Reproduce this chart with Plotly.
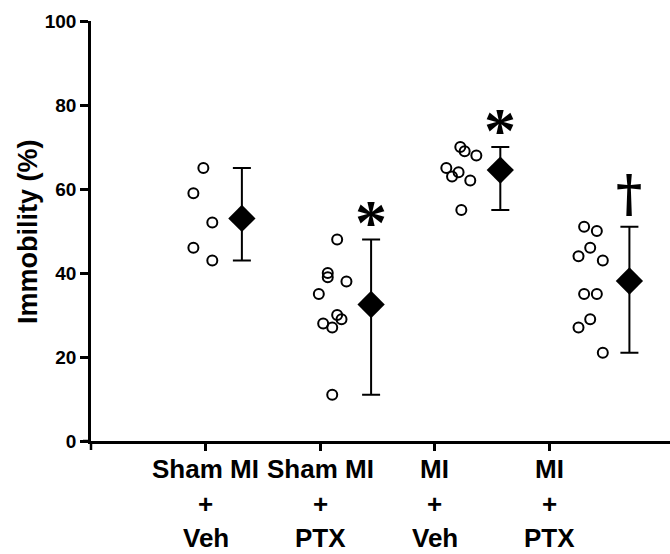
import plotly.graph_objects as go
import numpy as np

# ---- data ----
group_line1 = ["Sham MI", "Sham MI", "MI", "MI"]
group_line2 = ["+", "+", "+", "+"]
group_line3 = ["Veh", "PTX", "Veh", "PTX"]

sham_veh = [65, 59, 52, 46, 43]
sham_ptx = [48, 40, 39, 38, 35, 30, 29, 28, 27, 11]
mi_veh = [70, 69, 68, 65, 64, 63, 62, 55]
mi_ptx = [51, 50, 46, 44, 43, 35, 35, 29, 27, 21]

# horizontal jitter of the individual points (category units)
jit_sham_veh = [-0.02, -0.107, 0.058, -0.107, 0.058]
jit_sham_ptx = [0.147, 0.065, 0.065, 0.228, -0.013, 0.147, 0.185, 0.025, 0.104, 0.104]
jit_mi_veh = [0.221, 0.259, 0.361, 0.099, 0.206, 0.149, 0.308, 0.230]
jit_mi_ptx = [0.301, 0.412, 0.354, 0.252, 0.464, 0.301, 0.412, 0.354, 0.252, 0.464]
summary_offset = [0.316, 0.443, 0.570, 0.696]

marks = ["", "*", "*", "\u2020"]

groups = [sham_veh, sham_ptx, mi_veh, mi_ptx]
jitters = [jit_sham_veh, jit_sham_ptx, jit_mi_veh, jit_mi_ptx]

W, H = 670, 554
L, R, T, B = 91, 0, 21, 113
FONT = "Liberation Sans, Arial, sans-serif"

fig = go.Figure()

for i, (vals, jit) in enumerate(zip(groups, jitters)):
    cx = i + 1
    fig.add_trace(go.Scatter(
        x=[cx + j for j in jit], y=vals, mode="markers",
        marker=dict(symbol="circle-open", size=10, color="black", line=dict(width=2, color="black")),
        showlegend=False, hoverinfo="y"))
    m = float(np.mean(vals))
    fig.add_trace(go.Scatter(
        x=[cx + summary_offset[i]], y=[m], mode="markers",
        marker=dict(symbol="diamond", size=21, color="black"),
        error_y=dict(type="data", symmetric=False,
                     array=[max(vals) - m], arrayminus=[m - min(vals)],
                     color="black", thickness=2, width=9),
        showlegend=False))

fig.update_layout(
    width=W, height=H,
    margin=dict(l=L, r=R, t=T, b=B),
    paper_bgcolor="white", plot_bgcolor="white",
    font=dict(family=FONT, color="black"),
    xaxis=dict(range=[0, 5.05], showgrid=False, zeroline=False,
               showline=True, linecolor="black", linewidth=2.5,
               tickvals=[1, 2, 3, 4], ticktext=["", "", "", ""],
               ticks="outside", ticklen=7, tickwidth=2.5, tickcolor="black"),
    yaxis=dict(range=[0, 100], showgrid=False, zeroline=False,
               showline=True, linecolor="black", linewidth=2.5,
               tickvals=[0, 20, 40, 60, 80, 100],
               ticktext=["<b>%d</b>" % v for v in [0, 20, 40, 60, 80, 100]],
               ticks="outside", ticklen=8, tickwidth=2.5, tickcolor="black",
               tickfont=dict(size=19, family=FONT)),
)

pw, ph = W - L - R, H - T - B
def py(p):
    return (H - B - p) / ph

# axis overhangs
fig.add_shape(type="line", xref="paper", yref="paper", x0=0, x1=0, y0=0, y1=py(450),
              line=dict(color="black", width=2.5))
fig.add_shape(type="line", xref="paper", yref="paper", x0=-8 / pw, x1=0, y0=0, y1=0,
              line=dict(color="black", width=2.5))

# category labels (three lines)
for i in range(4):
    for txt, ypix in zip([group_line1[i], group_line2[i], group_line3[i]], [469, 504, 538]):
        fig.add_annotation(x=i + 1, xref="x", y=py(ypix), yref="paper", text="<b>%s</b>" % txt,
                           showarrow=False, xanchor="center", yanchor="middle",
                           font=dict(size=26, family=FONT, color="black"))

# y title
fig.add_annotation(x=(28 - L) / pw, xref="paper", y=py(232), yref="paper",
                   text="<b>Immobility (%)</b>", textangle=-90, showarrow=False,
                   xanchor="center", yanchor="middle",
                   font=dict(size=27, family=FONT, color="black"))

# significance marks
for i, mk in enumerate(marks):
    if not mk:
        continue
    vals = groups[i]
    if mk == "*":
        fig.add_annotation(x=i + 1 + summary_offset[i], y=max(vals) + 4.0, text="<b>%s</b>" % mk,
                           showarrow=False, yanchor="middle",
                           font=dict(size=64, family="Liberation Serif", color="black"))
    else:
        fig.add_annotation(x=i + 1 + summary_offset[i], y=max(vals) + 8, text="<b>%s</b>" % mk,
                           showarrow=False, yanchor="middle",
                           font=dict(size=50, family="DejaVu Serif", color="black"))

fig.write_html("out.html")
